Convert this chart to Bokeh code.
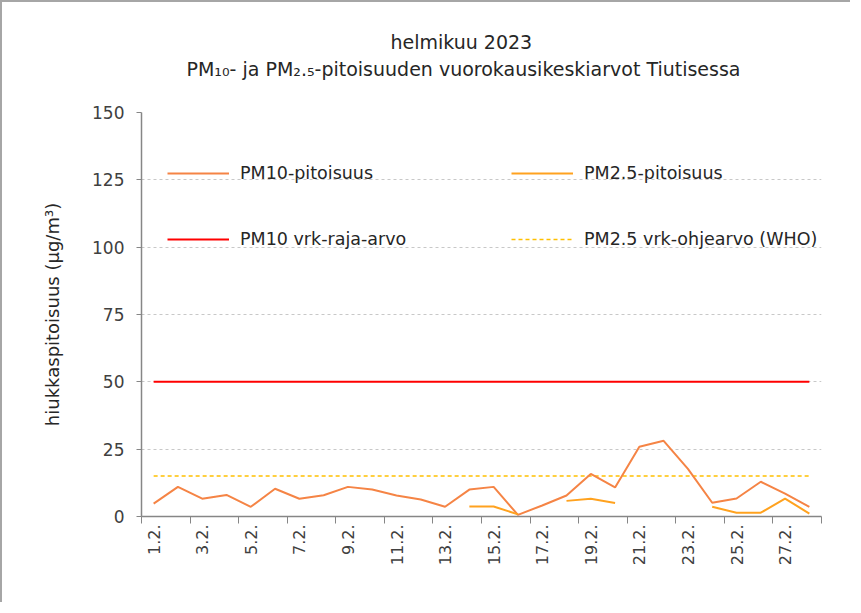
import math
import numpy as np
from bokeh.plotting import figure
from bokeh.models import (ColumnDataSource, Legend, LegendItem, FixedTicker, Range1d, Title)
from bokeh.embed import file_html
from bokeh.resources import INLINE

# ---- data ----
days = [f"{d}.2." for d in range(1, 29)]
pm10 = [4.8, 11.0, 6.6, 8.0, 3.6, 10.3, 6.6, 7.9, 11.0, 10.0, 7.8, 6.3, 3.6, 10.0,
        11.0, 0.6, 4.1, 7.8, 15.8, 10.8, 25.9, 28.1, 17.7, 5.1, 6.7, 12.9, 8.5, 3.6]
nan = float("nan")
pm25 = [nan] * 13 + [3.7, 3.7, 0.8, nan, 5.8, 6.6, 5.0, nan, nan, nan,
                     3.6, 1.4, 1.4, 6.6, 1.1]
pm10_limit = [50] * 28
who_guideline = [15] * 28
y_ticks = [0, 25, 50, 75, 100, 125, 150]

FONT = "DejaVu Sans"
x = [i + 0.5 for i in range(len(days))]
src = ColumnDataSource(dict(x=x, pm10=pm10, pm25=pm25, lim=pm10_limit, who=who_guideline))

p = figure(width=850, height=602, output_backend="svg", toolbar_location=None,
           x_range=Range1d(0, len(days)), y_range=Range1d(0, 150),
           min_border_left=139, min_border_right=31, min_border_top=110, min_border_bottom=88)
p.outline_line_color = None
p.background_fill_color = "white"
p.border_fill_color = "white"
p.styles = {"border-left": "2px solid #A6A6A6", "border-top": "2px solid #A6A6A6"}

r_lim = p.line("x", "lim", source=src, line_color="#FF0000", line_width=2)
r_who = p.line("x", "who", source=src, line_color="#FFC000", line_width=1.5, line_dash="4 3")
r_10 = p.line("x", "pm10", source=src, line_color="#F58445", line_width=2)
r_25 = p.line("x", "pm25", source=src, line_color="#FFA21F", line_width=2)

# x axis
xa = p.xaxis[0]
major = [i + 0.5 for i in range(0, len(days), 2)]
xa.ticker = FixedTicker(ticks=major, minor_ticks=list(range(0, len(days) + 1, 2)))
xa.major_label_overrides = {t: days[int(t)] for t in major}
xa.major_tick_line_color = None
xa.minor_tick_line_color = "#868686"
xa.minor_tick_out = 7
xa.minor_tick_in = 0
xa.axis_line_color = "#868686"
xa.axis_line_width = 1.5
xa.major_label_orientation = math.pi / 2
xa.major_label_text_font = FONT
xa.major_label_text_font_size = "16px"
xa.major_label_text_color = "#404040"
xa.major_label_standoff = 1

# y axis
ya = p.yaxis[0]
ya.ticker = FixedTicker(ticks=y_ticks)
ya.minor_tick_line_color = None
ya.major_tick_out = 5
ya.major_tick_in = 0
ya.major_tick_line_color = "#868686"
ya.axis_line_color = "#868686"
ya.axis_line_width = 1.5
ya.major_label_text_font = FONT
ya.major_label_text_font_size = "17px"
ya.major_label_text_color = "#404040"
ya.major_label_standoff = 12
ya.axis_label = "hiukkaspitoisuus (µg/m³)"
ya.axis_label_text_font = FONT
ya.axis_label_text_font_size = "18px"
ya.axis_label_text_font_style = "normal"
ya.axis_label_text_color = "#262626"
ya.axis_label_standoff = 26

p.xgrid.grid_line_color = None
p.ygrid.grid_line_color = "#C8C8C8"
p.ygrid.grid_line_dash = "3 3"
p.ygrid.ticker = FixedTicker(ticks=y_ticks)

# titles
spacer = Title(text=" ", text_font=FONT, text_font_size="24px", standoff=0)
t2 = Title(text="PM₁₀- ja PM₂.₅-pitoisuuden vuorokausikeskiarvot Tiutisessa", align="left",
           text_font=FONT, text_font_size="19px", text_font_style="normal",
           text_color="#262626", offset=45, standoff=6)
t1 = Title(text="helmikuu 2023", align="left", text_font=FONT, text_font_size="19px",
           text_font_style="normal", text_color="#262626", offset=249, standoff=0)
p.add_layout(spacer, "above")
p.add_layout(t2, "above")
p.add_layout(t1, "above")

legend = Legend(items=[LegendItem(label="PM10-pitoisuus", renderers=[r_10]),
                       LegendItem(label="PM10 vrk-raja-arvo", renderers=[r_lim]),
                       LegendItem(label="PM2.5-pitoisuus", renderers=[r_25]),
                       LegendItem(label="PM2.5 vrk-ohjearvo (WHO)", renderers=[r_who])],
                ncols=2, location=(26, 266), orientation="vertical",
                glyph_width=62, label_standoff=11, label_width=227, label_height=22,
                spacing=44, padding=0, margin=0,
                label_text_font=FONT, label_text_font_size="17.5px", label_text_color="#262626",
                background_fill_alpha=0, border_line_color=None)
p.add_layout(legend)

open("out.html", "w").write(file_html(p, INLINE))
